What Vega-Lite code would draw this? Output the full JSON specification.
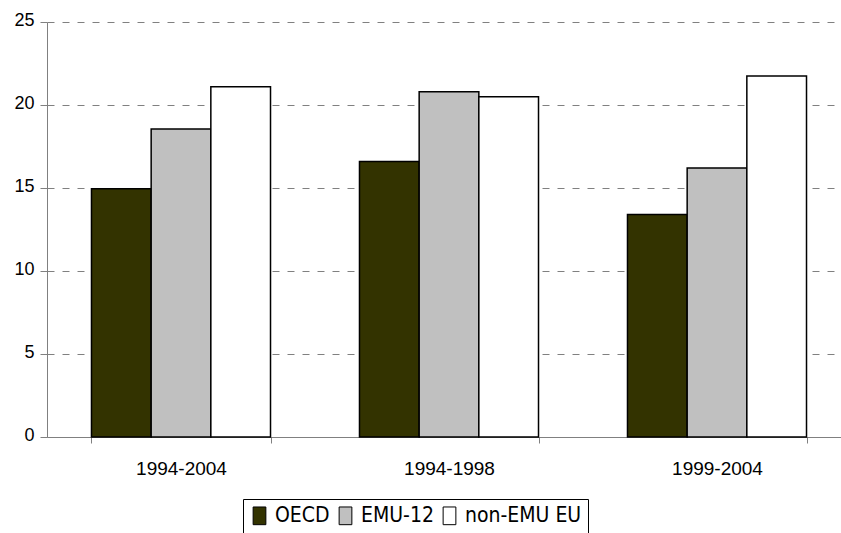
{
  "$schema": "https://vega.github.io/schema/vega-lite/v6.json",
  "width": 804,
  "height": 415,
  "autosize": {"type": "none"},
  "padding": {"left": 47, "top": 22, "right": 0, "bottom": 96},
  "background": "white",
  "config": {"view": {"stroke": null}, "font": "Liberation Sans"},
  "data": {
    "values": [
      {"period": "1994-2004", "region": "OECD", "value": 14.95},
      {"period": "1994-2004", "region": "EMU-12", "value": 18.55},
      {"period": "1994-2004", "region": "non-EMU EU", "value": 21.1},
      {"period": "1994-1998", "region": "OECD", "value": 16.6},
      {"period": "1994-1998", "region": "EMU-12", "value": 20.8},
      {"period": "1994-1998", "region": "non-EMU EU", "value": 20.5},
      {"period": "1999-2004", "region": "OECD", "value": 13.4},
      {"period": "1999-2004", "region": "EMU-12", "value": 16.2},
      {"period": "1999-2004", "region": "non-EMU EU", "value": 21.75}
    ]
  },
  "mark": {"type": "bar", "stroke": "black", "strokeWidth": 1.5},
  "encoding": {
    "x": {
      "field": "period",
      "type": "nominal",
      "sort": ["1994-2004", "1994-1998", "1999-2004"],
      "scale": {"paddingInner": 0.332, "paddingOuter": 0.166},
      "axis": {
        "title": null,
        "labelAngle": 0,
        "tickBand": "extent",
        "domainColor": "#808080",
        "tickColor": "#808080",
        "tickSize": 6,
        "labelFont": "Liberation Sans",
        "labelFontSize": 19,
        "labelPadding": 16,
        "labelColor": "black",
        "grid": false
      }
    },
    "xOffset": {
      "field": "region",
      "sort": ["OECD", "EMU-12", "non-EMU EU"],
      "scale": {"paddingInner": 0, "paddingOuter": 0}
    },
    "y": {
      "field": "value",
      "type": "quantitative",
      "scale": {"domain": [0, 25]},
      "axis": {
        "title": null,
        "values": [0, 5, 10, 15, 20, 25],
        "grid": true,
        "gridDash": [7, 8],
        "gridColor": "#808080",
        "gridOpacity": 1,
        "domainColor": "#808080",
        "tickColor": "#808080",
        "tickSize": 7,
        "labelPadding": 6,
        "labelOffset": -2,
        "labelFont": "Liberation Sans",
        "labelFontSize": 18,
        "labelColor": "black"
      }
    },
    "fill": {
      "field": "region",
      "type": "nominal",
      "sort": ["OECD", "EMU-12", "non-EMU EU"],
      "scale": {"domain": ["OECD", "EMU-12", "non-EMU EU"], "range": ["#333300", "#C0C0C0", "#FFFFFF"]},
      "legend": {
        "orient": "none",
        "legendX": 196,
        "legendY": 477,
        "direction": "horizontal",
        "title": null,
        "strokeColor": "black",
        "fillColor": "white",
        "padding": 6,
        "symbolType": "M-0.72,-1H0.72V1H-0.72Z",
        "symbolSize": 313,
        "symbolStrokeColor": "black",
        "symbolStrokeWidth": 1,
        "symbolOpacity": 1,
        "labelFont": "DejaVu Sans Condensed, Liberation Sans",
        "labelFontSize": 21,
        "labelOffset": 5,
        "columnPadding": 5,
        "labelColor": "black"
      }
    }
  }
}
